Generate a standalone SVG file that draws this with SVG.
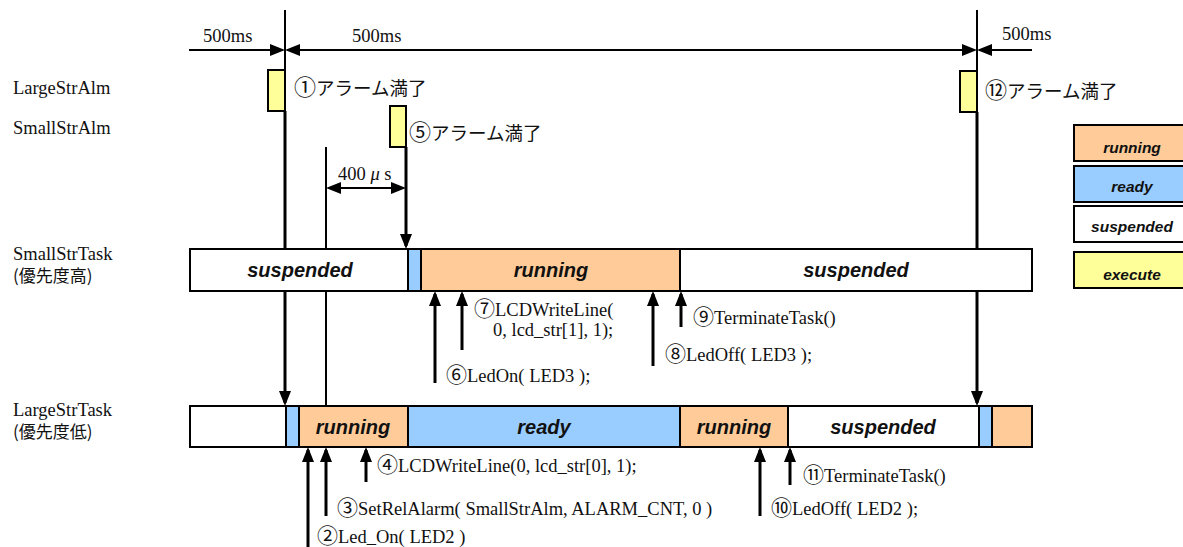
<svg xmlns="http://www.w3.org/2000/svg" width="1183" height="547" viewBox="0 0 1183 547">
<style>
.ser{font-family:"Liberation Serif","Times New Roman",serif;font-size:18.5px;fill:#111}
.cd{font-family:"Noto Sans CJK JP","Noto Sans",sans-serif;font-size:21px}
.cdb{font-size:22px}
.jp{font-family:"Noto Sans CJK JP","Noto Sans",sans-serif;font-size:18.5px;fill:#111}
.jps{font-family:"Noto Sans CJK JP","Noto Sans",sans-serif;font-size:17px;fill:#111}
.st{font-family:"Liberation Sans",Arial,sans-serif;font-weight:bold;font-style:italic;font-size:20px;fill:#111;text-anchor:middle}
.lg{font-family:"Liberation Sans",Arial,sans-serif;font-weight:bold;font-style:italic;font-size:15.5px;fill:#111;text-anchor:middle}
.thin{stroke:#000;stroke-width:2;fill:none}
.thick{stroke:#000;stroke-width:3;fill:none}
.box{stroke:#000;stroke-width:2}
.run{fill:#ffcc99}.rdy{fill:#99ccff}.sus{fill:#ffffff}.exe{fill:#ffff99}
</style>
<defs>
<marker id="ah" viewBox="0 0 15 12" markerWidth="15" markerHeight="12" refX="12" refY="6" orient="auto-start-reverse" markerUnits="userSpaceOnUse">
<path d="M0,0 L15,6 L0,12 z" fill="#000"/>
</marker>
</defs>
<rect width="1183" height="547" fill="#fff"/>

<g id="connectors">
<line class="thin" x1="285" y1="10" x2="285" y2="70"/>
<line class="thin" x1="977" y1="10" x2="977" y2="71"/>
<line class="thin" x1="189" y1="50" x2="282" y2="50" marker-end="url(#ah)"/>
<line class="thin" x1="288" y1="50" x2="974" y2="50" marker-start="url(#ah)" marker-end="url(#ah)"/>
<line class="thin" x1="1032" y1="50" x2="980" y2="50" marker-end="url(#ah)"/>
<line class="thick" x1="285" y1="111" x2="285" y2="403" marker-end="url(#ah)"/>
<line class="thick" x1="406" y1="147" x2="406" y2="246" marker-end="url(#ah)"/>
<line class="thick" x1="977" y1="112" x2="977" y2="403" marker-end="url(#ah)"/>
<line class="thin" x1="326" y1="147" x2="326" y2="406"/>
<line class="thin" x1="329" y1="188" x2="403" y2="188" marker-start="url(#ah)" marker-end="url(#ah)"/>
<line class="thick" x1="435" y1="383" x2="435" y2="294" marker-end="url(#ah)"/>
<line class="thick" x1="462" y1="350" x2="462" y2="294" marker-end="url(#ah)"/>
<line class="thick" x1="653" y1="366" x2="653" y2="294" marker-end="url(#ah)"/>
<line class="thick" x1="681" y1="327" x2="681" y2="294" marker-end="url(#ah)"/>
<line class="thick" x1="308" y1="547" x2="308" y2="450" marker-end="url(#ah)"/>
<line class="thick" x1="326" y1="516" x2="326" y2="450" marker-end="url(#ah)"/>
<line class="thick" x1="366" y1="482" x2="366" y2="450" marker-end="url(#ah)"/>
<line class="thick" x1="760" y1="516" x2="760" y2="450" marker-end="url(#ah)"/>
<line class="thick" x1="790" y1="485" x2="790" y2="450" marker-end="url(#ah)"/>
</g>

<g id="labels">
<text class="ser" x="203" y="42">500ms</text>
<text class="ser" x="352" y="42">500ms</text>
<text class="ser" x="1002" y="40">500ms</text>
<text class="ser" x="13" y="94">LargeStrAlm</text>
<text class="ser" x="13" y="134">SmallStrAlm</text>
<text class="ser" x="13" y="260">SmallStrTask</text>
<text class="jps" x="13" y="282">(優先度高)</text>
<text class="ser" x="13" y="416">LargeStrTask</text>
<text class="jps" x="13" y="438">(優先度低)</text>
<text class="ser" x="338" y="180">400 <tspan font-style="italic">μ</tspan> s</text>
</g>

<g id="alarm1">
<rect class="box exe" x="268" y="70" width="17" height="41"/>
<text class="jp" x="294" y="95"><tspan class="cdb">①</tspan>アラーム満了</text>
</g>
<g id="alarm5">
<rect class="box exe" x="390" y="106" width="16" height="41"/>
<text class="jp" x="409" y="140"><tspan class="cdb">⑤</tspan>アラーム満了</text>
</g>
<g id="alarm12">
<rect class="box exe" x="960" y="71" width="17" height="41"/>
<text class="jp" x="985" y="98"><tspan class="cdb">⑫</tspan>アラーム満了</text>
</g>

<g id="smallTask">
<rect class="box sus" x="190" y="249" width="218" height="42"/>
<rect class="box rdy" x="408" y="249" width="13" height="42"/>
<rect class="box run" x="421" y="249" width="259" height="42"/>
<rect class="box sus" x="680" y="249" width="352" height="42"/>
<text class="st" x="300" y="277">suspended</text>
<text class="st" x="551" y="277">running</text>
<text class="st" x="856" y="277">suspended</text>
</g>

<g id="largeTask">
<rect class="box sus" x="190" y="406" width="96" height="41"/>
<rect class="box rdy" x="286" y="406" width="13" height="41"/>
<rect class="box run" x="299" y="406" width="109" height="41"/>
<rect class="box rdy" x="408" y="406" width="272" height="41"/>
<rect class="box run" x="680" y="406" width="108" height="41"/>
<rect class="box sus" x="788" y="406" width="191" height="41"/>
<rect class="box rdy" x="979" y="406" width="13" height="41"/>
<rect class="box run" x="992" y="406" width="40" height="41"/>
<text class="st" x="353" y="434">running</text>
<text class="st" x="544" y="434">ready</text>
<text class="st" x="734" y="434">running</text>
<text class="st" x="883" y="434">suspended</text>
</g>

<g id="calls">
<text class="ser" x="474" y="316"><tspan class="cd">⑦</tspan>LCDWriteLine(</text>
<text class="ser" x="493" y="336">0, lcd_str[1], 1);</text>
<text class="ser" x="446" y="382"><tspan class="cd">⑥</tspan>LedOn( LED3 );</text>
<text class="ser" x="665" y="361"><tspan class="cd">⑧</tspan>LedOff( LED3 );</text>
<text class="ser" x="693" y="324"><tspan class="cd">⑨</tspan>TerminateTask()</text>
<text class="ser" x="377" y="472"><tspan class="cd">④</tspan>LCDWriteLine(0, lcd_str[0], 1);</text>
<text class="ser" x="337" y="515"><tspan class="cd">③</tspan>SetRelAlarm( SmallStrAlm, ALARM_CNT, 0 )</text>
<text class="ser" x="317" y="543"><tspan class="cd">②</tspan>Led_On( LED2 )</text>
<text class="ser" x="771" y="515"><tspan class="cd">⑩</tspan>LedOff( LED2 );</text>
<text class="ser" x="803" y="482"><tspan class="cd">⑪</tspan>TerminateTask()</text>
</g>

<g id="legend">
<rect class="box run" x="1074" y="125" width="120" height="36"/>
<text class="lg" x="1132" y="153">running</text>
<rect class="box rdy" x="1074" y="166" width="120" height="36"/>
<text class="lg" x="1132" y="192">ready</text>
<rect class="box sus" x="1074" y="206" width="120" height="36"/>
<text class="lg" x="1132" y="232">suspended</text>
<rect class="box exe" x="1074" y="252" width="120" height="36"/>
<text class="lg" x="1132" y="280">execute</text>
</g>
</svg>
